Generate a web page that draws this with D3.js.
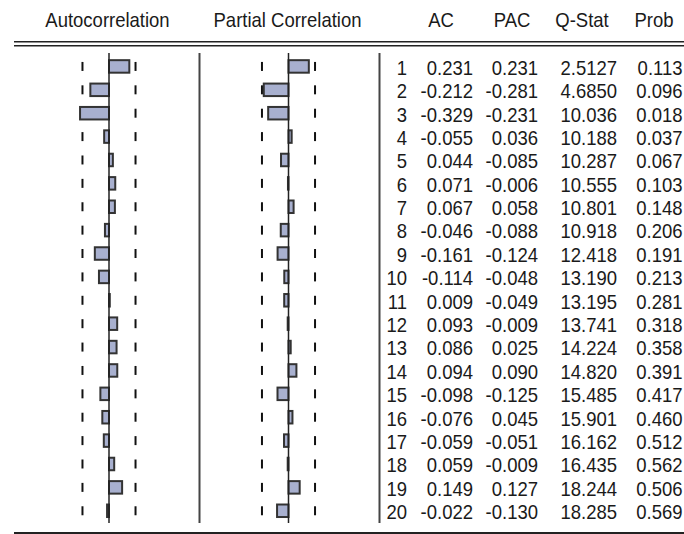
<body style="margin:0;background:#fff">
<script src="https://d3js.org/d3.v7.min.js"></script>
<script>
const lags  = [1,2,3,4,5,6,7,8,9,10,11,12,13,14,15,16,17,18,19,20];
const ac    = [0.231,-0.212,-0.329,-0.055,0.044,0.071,0.067,-0.046,-0.161,-0.114,0.009,0.093,0.086,0.094,-0.098,-0.076,-0.059,0.059,0.149,-0.022];
const pac   = [0.231,-0.281,-0.231,0.036,-0.085,-0.006,0.058,-0.088,-0.124,-0.048,-0.049,-0.009,0.025,0.090,-0.125,0.045,-0.051,-0.009,0.127,-0.130];
const qstat = [2.5127,4.6850,10.036,10.188,10.287,10.555,10.801,10.918,12.418,13.190,13.195,13.741,14.224,14.820,15.485,15.901,16.162,16.435,18.244,18.285];
const prob  = [0.113,0.096,0.018,0.037,0.067,0.103,0.148,0.206,0.191,0.213,0.281,0.318,0.358,0.391,0.417,0.460,0.512,0.562,0.506,0.569];
const headers = ['AC','PAC','Q-Stat','Prob'];
const nObs = 44;
const bound = 2 / Math.sqrt(nObs);

const W = 684, H = 534;
const svg = d3.select('body').append('svg')
  .attr('width', W).attr('height', H)
  .style('font-family', 'Liberation Sans, Arial, sans-serif');

const y = d3.scaleBand().domain(lags).range([54.8, 522.4]).paddingInner(0.465).paddingOuter(0.23);
const rowC = d => y(d) + y.bandwidth() / 2;
const xAC  = d3.scaleLinear().domain([-1, 1]).range([109 - 88, 109 + 88]);
const xPAC = d3.scaleLinear().domain([-1, 1]).range([288.5 - 88, 288.5 + 88]);

// text slightly taller than wide, like the original
function txt(g, x, yy, s, anchor) {
  return g.append('text')
    .attr('transform', `translate(${x},${yy}) scale(1,1.07)`)
    .attr('text-anchor', anchor).attr('font-size', 18.5).attr('fill', '#1a1a1a')
    .text(s);
}

// header
txt(svg, 107.5, 27, 'Autocorrelation', 'middle');
txt(svg, 287.5, 27, 'Partial Correlation', 'middle');
const headX = [441, 512, 582, 654];
headers.forEach((h, i) => txt(svg, headX[i], 27, h, 'middle'));

svg.append('line').attr('x1', 14).attr('x2', W).attr('y1', 41.7).attr('y2', 41.7).attr('stroke', '#222').attr('stroke-width', 1.5);
svg.append('line').attr('x1', 14).attr('x2', W).attr('y1', 45.7).attr('y2', 45.7).attr('stroke', '#222').attr('stroke-width', 1.5);
svg.append('line').attr('x1', 14).attr('x2', W).attr('y1', 533).attr('y2', 533).attr('stroke', '#222').attr('stroke-width', 2);

// separators
[199.5, 379.5].forEach(x => svg.append('line').attr('x1', x).attr('x2', x)
  .attr('y1', 53).attr('y2', 523).attr('stroke', '#444').attr('stroke-width', 2));

function panel(x, vals) {
  const g = svg.append('g');
  [-bound, bound].forEach(b => {
    g.selectAll(null).data(lags).join('line')
      .attr('x1', x(b)).attr('x2', x(b))
      .attr('y1', d => rowC(d) - 4.5).attr('y2', d => rowC(d) + 4.5)
      .attr('stroke', '#111').attr('stroke-width', 2);
  });
  g.selectAll('rect').data(vals).join('rect')
    .attr('x', d => Math.min(x(0), x(d)))
    .attr('width', d => Math.abs(x(d) - x(0)))
    .attr('y', (d, i) => y(lags[i]))
    .attr('height', y.bandwidth())
    .attr('fill', '#a8b0cf').attr('stroke', '#333').attr('stroke-width', 2);
  g.append('line').attr('x1', x(0)).attr('x2', x(0))
    .attr('y1', 53).attr('y2', 523).attr('stroke', '#222').attr('stroke-width', 1.5);
}
panel(xAC, ac);
panel(xPAC, pac);

// table
const fq = v => v < 10 ? v.toFixed(4) : v.toFixed(3);
const cols = [
  { x: 407, f: i => lags[i] },
  { x: 473, f: i => ac[i].toFixed(3) },
  { x: 538, f: i => pac[i].toFixed(3) },
  { x: 617, f: i => fq(qstat[i]) },
  { x: 682.5, f: i => prob[i].toFixed(3) }
];
const tg = svg.append('g');
cols.forEach(c => {
  lags.forEach((d, i) => txt(tg, c.x, rowC(d) + 8.3, c.f(i), 'end'));
});
</script>
</body>
